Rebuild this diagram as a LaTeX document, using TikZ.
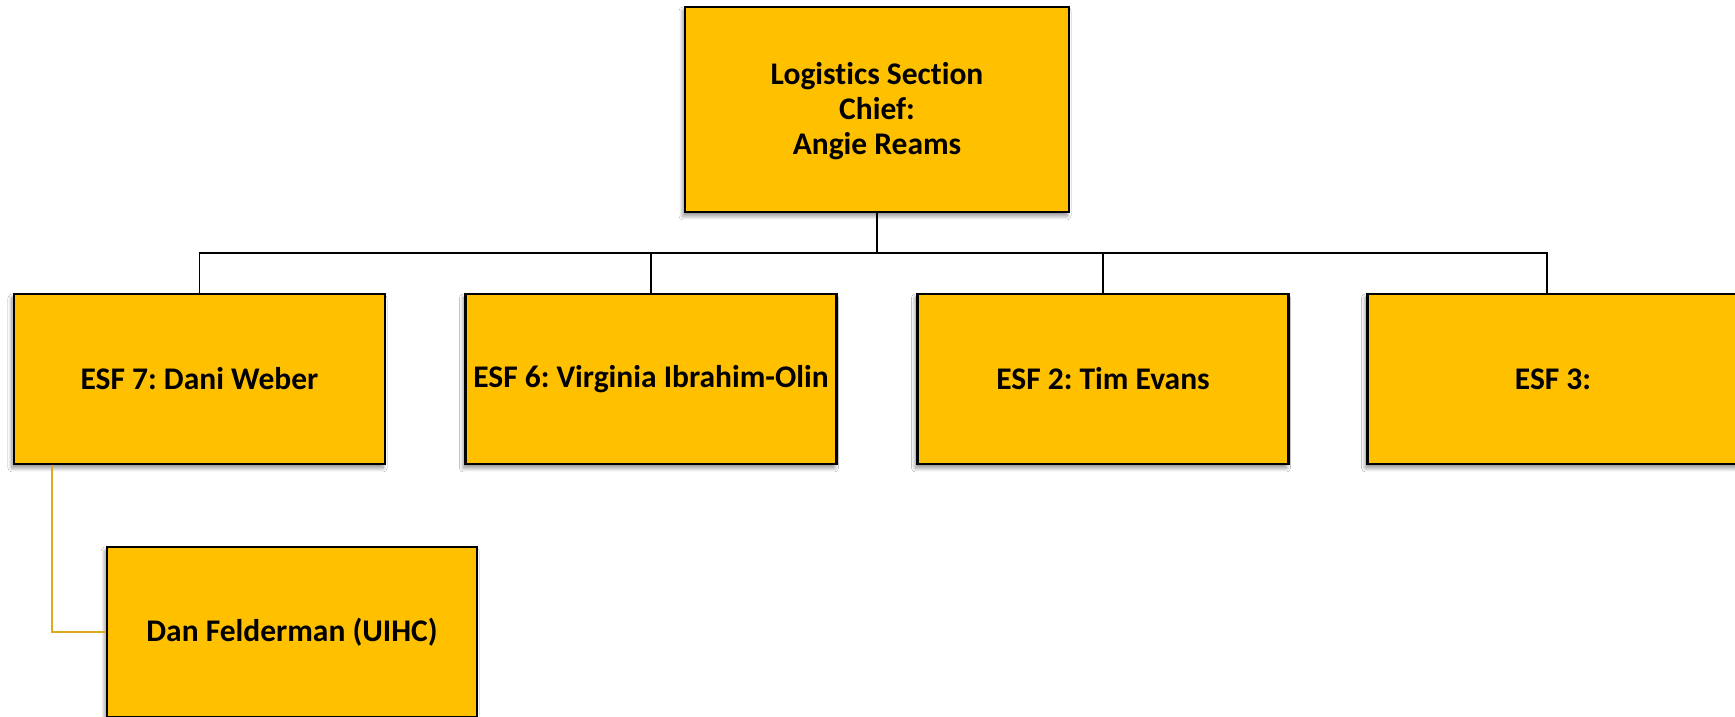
\documentclass[tikz,border=0pt]{standalone}
\usepackage{fontspec}
\setmainfont[Ligatures=NoCommon]{Carlito}
\usetikzlibrary{shadows.blur}
\definecolor{boxfill}{HTML}{FFC000}
\definecolor{goldline}{HTML}{DDAA22}
\frenchspacing
\tikzset{
  orgbox/.style={draw=black, line width=2.6pt, fill=boxfill, inner sep=0pt,
    minimum width=371pt, minimum height=170pt, align=center,
    font=\fontsize{31.5}{35}\selectfont\bfseries, text=black,
    blur shadow={shadow xshift=-2pt, shadow yshift=-4pt, shadow blur steps=8,
      shadow blur radius=4pt, shadow opacity=45}},
  conn/.style={draw=black, line width=1.3pt},
  goldconn/.style={draw=goldline, line width=2.2pt}
}
\begin{document}
\begin{tikzpicture}[x=1pt,y=1pt]
\useasboundingbox (0,0) rectangle (1735,716);
\fill[white] (0,0) rectangle (1735,716);
\node[orgbox, minimum width=384pt, minimum height=205pt] (top) at (877,606.5)
  {\raisebox{-3.5pt}[\height][\depth]{\begin{tabular}{@{}c@{}}Logistics Section\\Chief:\\Angie Reams\end{tabular}}};
\node[orgbox] (esf7) at (199.5,337) {ESF 7: Dani Weber};
\node[orgbox] (esf6) at (651,337) {ESF 6: Virginia Ibrahim-Olin};
\node[orgbox] (esf2) at (1103,337) {ESF 2: Tim Evans};
\node[orgbox] (esf3) at (1553,337) {ESF 3:};
\node[orgbox, minimum width=370pt] (dan) at (292,84) {Dan Felderman (UIHC)};
\coordinate (bus) at (877,463);
\draw[conn] (top.south) -- (bus);
\draw[conn] (bus) -| (esf7.north);
\draw[conn] (bus) -| (esf6.north);
\draw[conn] (bus) -| (esf2.north);
\draw[conn] (bus) -| ([xshift=-6pt]esf3.north);
\coordinate (gstart) at ([xshift=-147.5pt]esf7.south);
\draw[goldconn] (gstart) |- (dan.west);
\end{tikzpicture}
\end{document}
